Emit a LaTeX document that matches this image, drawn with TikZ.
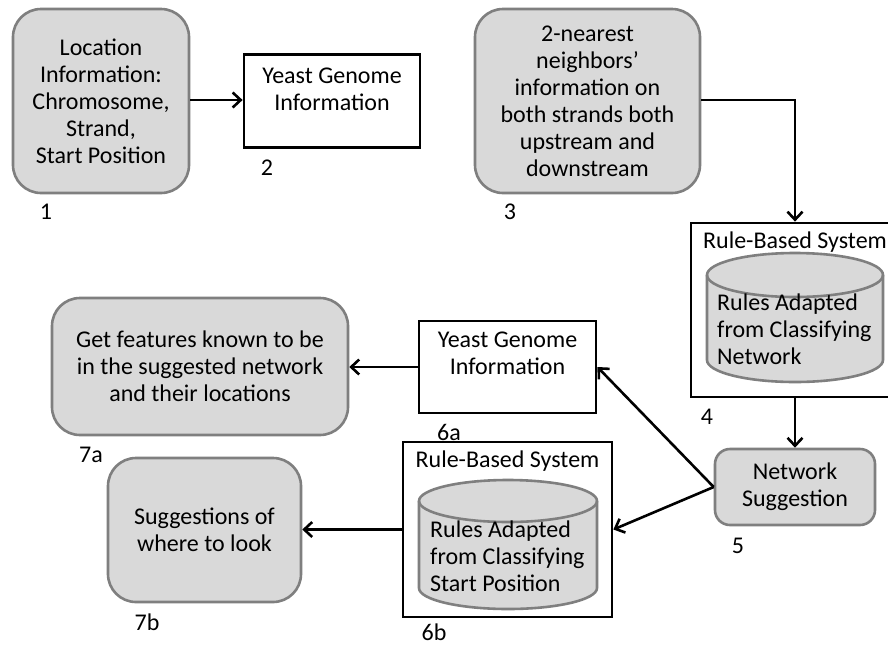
\documentclass[tikz,border=0pt]{standalone}
\usepackage{fontspec}
\setmainfont{Carlito}
\usetikzlibrary{arrows.meta,positioning}

\definecolor{boxfill}{HTML}{D9D9D9}
\definecolor{boxline}{HTML}{7F7F7F}

\tikzset{
  txt/.style={font=\fontsize{24}{27}\selectfont, inner sep=0pt, align=center},
  graybox/.style={draw=boxline, fill=boxfill, line width=2.6pt, rounded corners=28pt,
    inner sep=0pt, font=\fontsize{24}{27}\selectfont, align=center},
  whitebox/.style={draw=black, line width=2.8pt, inner sep=0pt},
  flow/.style={draw=black, line width=2.6pt, -{Straight Barb[length=8pt,width=15pt,line width=2.6pt]}},
  cyl/.style={draw=boxline, fill=boxfill, line width=2.6pt},
  num/.style={font=\fontsize{24}{27}\selectfont, inner sep=0pt},
}

% cylinder: left x, right x, top centre y, bottom centre y, half height of the ellipse
\newcommand{\dbcyl}[5]{%
  \pgfmathsetmacro{\rxx}{(#2-#1)/2}%
  \path[cyl] (#1,#3) -- (#1,#4) arc[start angle=180,end angle=360,x radius=\rxx pt,y radius=#5 pt]
    -- (#2,#3) arc[start angle=0,end angle=180,x radius=\rxx pt,y radius=#5 pt] -- cycle;
  \draw[cyl, fill=none] (#1,#3) arc[start angle=180,end angle=360,x radius=\rxx pt,y radius=#5 pt];
}

\begin{document}
\begin{tikzpicture}[x=1pt,y=1pt]
\useasboundingbox (0,0) rectangle (888,-646);
\clip (0,0) rectangle (888,-646);
\fill[white] (0,0) rectangle (888,-646);

% first row
\node[graybox, minimum width=176pt, minimum height=184pt] (b1) at (101,-101)
  {Location\\Information:\\Chromosome,\\Strand,\\Start Position};
\node[num] (n1) at (46,-212) {1};

\node[whitebox, minimum width=176pt, minimum height=93pt] (b2) at (332,-101) {};
\node[txt] (t2) at (332,-89.5) {Yeast Genome\\Information};
\node[num] (n2) at (267,-168) {2};

\node[graybox, minimum width=225pt, minimum height=184pt] (b3) at (587.5,-101)
  {2-nearest\\neighbors’\\information on\\both strands both\\upstream and\\downstream};
\node[num] (n3) at (510,-212) {3};

% rule-based system with network rules
\node[whitebox, minimum width=208pt, minimum height=174pt] (b4) at (795,-310) {};
\node[txt] (t4) at (795,-242) {Rule-Based System};
\dbcyl{707}{883}{-275}{-360}{22}
\node[txt, align=left, anchor=west] (c4) at (717,-329)
  {Rules Adapted\\from Classifying\\Network};
\node[num] (n4) at (707,-417) {4};

\node[graybox, rounded corners=15pt, minimum width=160pt, minimum height=76pt] (b5) at (795,-487)
  {Network\\Suggestion};
\node[num] (n5) at (738,-546) {5};

% second stage
\node[whitebox, minimum width=177pt, minimum height=92pt] (b6a) at (507.5,-367) {};
\node[txt] (t6a) at (507.5,-353.5) {Yeast Genome\\Information};
\node[num] (n6a) at (449,-432) {6a};

\node[whitebox, minimum width=209pt, minimum height=175pt] (b6b) at (507.5,-529.5) {};
\node[txt] (t6b) at (507.5,-461) {Rule-Based System};
\dbcyl{419}{597}{-501}{-588}{21}
\node[txt, align=left, anchor=west] (c6b) at (430,-556)
  {Rules Adapted\\from Classifying\\Start Position};
\node[num] (n6b) at (434,-632) {6b};

\node[graybox, minimum width=296pt, minimum height=137pt] (b7a) at (200,-366.5)
  {Get features known to be\\in the suggested network\\and their locations};
\node[num] (n7a) at (91,-455) {7a};

\node[graybox, minimum width=193pt, minimum height=144pt] (b7b) at (204.5,-530)
  {Suggestions of\\where to look};
\node[num] (n7b) at (147,-622) {7b};

% connectors
\draw[flow] (b1.east |- 0,-100) -- (b2.west |- 0,-100);
\draw[flow] (b3.east |- 0,-100) -| (b4.north);
\draw[flow] (b4.south) -- (b5.north);
\draw[flow] (b5.west) -- (b6a.east);
\draw[flow] (b5.west) -- (b6b.east);
\draw[flow] (b6a.west) -- (b7a.east |- b6a.west);
\draw[flow] (b6b.west) -- (b7b.east |- b6b.west);
\end{tikzpicture}
\end{document}
